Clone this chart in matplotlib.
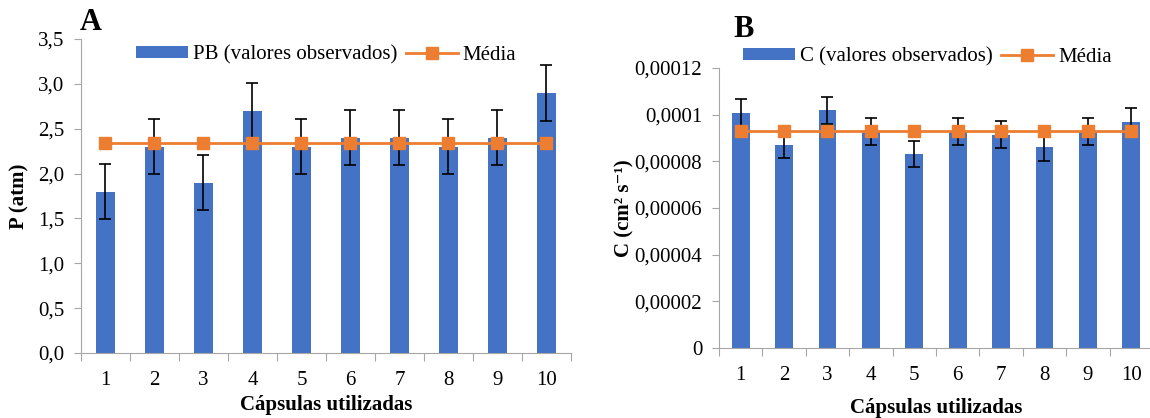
import numpy as np
import matplotlib
matplotlib.use("Agg")
import matplotlib.pyplot as plt

plt.rcParams['font.family'] = ['Liberation Serif', 'DejaVu Serif']

# capsules used
capsulas = [1, 2, 3, 4, 5, 6, 7, 8, 9, 10]

# A: pressure (atm)
pb = [1.8, 2.3, 1.9, 2.7, 2.3, 2.4, 2.4, 2.3, 2.4, 2.9]
pb_err = [0.31, 0.31, 0.31, 0.31, 0.31, 0.31, 0.31, 0.31, 0.31, 0.31]
pb_media = [2.34] * 10

# B: C (cm2 s-1)
c_obs = [0.0001006, 0.0000871, 0.0001018, 0.0000928, 0.0000832,
         0.0000928, 0.0000915, 0.0000860, 0.0000928, 0.0000969]
c_err = [0.0000060, 0.0000057, 0.0000059, 0.0000059, 0.0000055,
         0.0000059, 0.0000058, 0.0000058, 0.0000059, 0.0000058]
c_media = [0.0000930] * 10

azul = '#4472C4'
laranja = '#ED7D31'
cinza = '#A6A6A6'
fs = 15

fig = plt.figure(figsize=(11.5, 4.18), dpi=100)
ax1 = fig.add_axes([0.0704, 0.1555, 0.4261, 0.7512])
ax2 = fig.add_axes([0.6252, 0.1675, 0.3774, 0.6698])


def painel(ax, vals, errs, media, nome, largura):
    x = np.array(capsulas)
    barras = ax.bar(x, vals, width=largura, color=azul, zorder=2)
    ax.errorbar(x, vals, yerr=errs, fmt='none', ecolor='black',
                elinewidth=1.2, capsize=4, capthick=1.2, zorder=3)
    linha, = ax.plot(x, media, color=laranja, lw=2, marker='s', markersize=9,
                     zorder=4)
    ax.set_xlim(0.5, 10.5)
    for s in ['top', 'right']:
        ax.spines[s].set_visible(False)
    for s in ['left', 'bottom']:
        ax.spines[s].set_color(cinza)
    # ticks at category boundaries, labels at centres
    ax.set_xticks(np.arange(0.5, 11, 1))
    ax.set_xticklabels([])
    ax.set_xticks(x, minor=True)
    ax.set_xticklabels([str(c) for c in capsulas], minor=True, fontsize=fs)
    ax.tick_params(axis='x', which='major', length=6, color=cinza, direction='out')
    ax.tick_params(axis='x', which='minor', length=0, pad=13)
    ax.tick_params(axis='y', length=5, color=cinza, labelsize=fs, pad=7)
    return [barras, linha], [nome, 'Média']


h, l = painel(ax1, pb, pb_err, pb_media, 'PB (valores observados)', 0.38)
ax1.set_ylim(0, 3.5)
ax1.set_yticks(np.arange(0, 3.51, 0.5))
ax1.set_yticklabels([f'{v:.1f}'.replace('.', ',') for v in np.arange(0, 3.51, 0.5)])
ax1.set_ylabel('P (atm)', fontsize=fs, fontweight='bold')
ax1.yaxis.set_label_coords(-0.106, 0.5)
ax1.set_xlabel('Cápsulas utilizadas', fontsize=fs, fontweight='bold')
ax1.xaxis.set_label_coords(0.5, -0.135)
ax1.legend(h, l, loc='center', bbox_to_anchor=(0.5, 0.949), ncol=2, frameon=False,
           fontsize=fs, handlelength=2.5, handleheight=0.5, handletextpad=0.25,
           columnspacing=0.4, borderpad=0)
fig.text(0.069, 0.945, 'A', fontsize=22, fontweight='bold', ha='left', va='center')

h, l = painel(ax2, c_obs, c_err, c_media, 'C (valores observados)', 0.41)
ax2.set_ylim(0, 0.00012)
yt = [0, 0.00002, 0.00004, 0.00006, 0.00008, 0.0001, 0.00012]
ax2.set_yticks(yt)
ax2.set_yticklabels(['0', '0,00002', '0,00004', '0,00006', '0,00008', '0,0001', '0,00012'])
ax2.set_ylabel('C (cm² s⁻¹)', fontsize=fs, fontweight='bold')
ax2.yaxis.set_label_coords(-0.195, 0.5)
ax2.set_xlabel('Cápsulas utilizadas', fontsize=fs, fontweight='bold')
ax2.xaxis.set_label_coords(0.5, -0.18)
ax2.legend(h, l, loc='center', bbox_to_anchor=(0.48, 1.039), ncol=2, frameon=False,
           fontsize=fs, handlelength=2.5, handleheight=0.5, handletextpad=0.25,
           columnspacing=0.4, borderpad=0)
fig.text(0.638, 0.93, 'B', fontsize=22, fontweight='bold', ha='left', va='center')

plt.savefig('out.png', dpi=100)
